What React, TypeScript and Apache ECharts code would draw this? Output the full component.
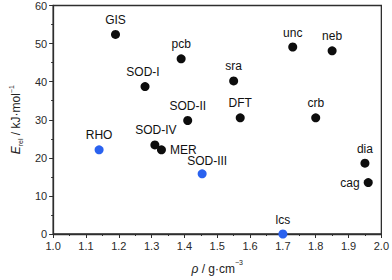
import React, { useEffect, useRef } from "react";
import * as echarts from "echarts";

const names = ["GIS", "SOD-I", "pcb", "SOD-II", "sra", "DFT", "unc", "neb", "crb", "dia", "cag", "SOD-IV", "MER", "RHO", "SOD-III", "lcs"];
const rho = [1.19, 1.28, 1.39, 1.41, 1.55, 1.57, 1.73, 1.85, 1.80, 1.95, 1.96, 1.31, 1.33, 1.14, 1.454, 1.70];
const erel = [52.4, 38.7, 46.0, 29.8, 40.2, 30.5, 49.1, 48.1, 30.5, 18.6, 13.5, 23.4, 22.1, 22.1, 15.8, 0];
const isBlue = [false, false, false, false, false, false, false, false, false, false, false, false, false, true, true, true];

const xTicks = [1.0, 2.0, 0.1];
const yTicks = [0, 60, 10];

const labelPlacement: Record<string, { position: string; offset?: number[] }> = {
  GIS: { position: "top" },
  "SOD-I": { position: "top", offset: [-2, 0] },
  pcb: { position: "top" },
  "SOD-II": { position: "top" },
  sra: { position: "top" },
  DFT: { position: "top" },
  unc: { position: "top" },
  neb: { position: "top" },
  crb: { position: "top" },
  dia: { position: "top" },
  cag: { position: "left" },
  "SOD-IV": { position: "top", offset: [1, 0] },
  MER: { position: "right" },
  RHO: { position: "top" },
  "SOD-III": { position: "top", offset: [5, 2] },
  lcs: { position: "top" },
};

export default function App() {
  const ref = useRef<HTMLDivElement>(null);
  useEffect(() => {
    if (!ref.current) return;
    const chart = echarts.init(ref.current, null, { renderer: "svg" });
    const font = "Liberation Sans, Arial, sans-serif";
    const axisColor = "#2e2e2e";
    const data = names.map((n, i) => {
      const lp = labelPlacement[n] || { position: "top" };
      return {
        name: n,
        value: [rho[i], erel[i]],
        itemStyle: { color: isBlue[i] ? "#2a62ef" : "#0d0d0d", opacity: 1 },
        label: {
          show: true,
          formatter: n,
          position: lp.position,
          offset: lp.offset || [0, 0],
          distance: 4,
          color: "#111111",
          fontSize: 12,
          fontFamily: font,
        },
      };
    });
    chart.setOption({
      animation: false,
      grid: {
        left: 38,
        right: 7,
        top: 5,
        bottom: 39,
        show: true,
        borderColor: axisColor,
        borderWidth: 1.3,
        backgroundColor: "transparent",
      },
      xAxis: {
        type: "value",
        min: xTicks[0],
        max: xTicks[1],
        interval: xTicks[2],
        name: "{i|ρ}{n| / g·cm}{sup|−3}",
        nameLocation: "middle",
        nameGap: 25,
        nameTextStyle: {
          rich: {
            i: { fontStyle: "italic", fontSize: 12, fontFamily: font, color: "#222", lineHeight: 16, verticalAlign: "bottom" },
            n: { fontSize: 12, fontFamily: font, color: "#222", lineHeight: 16, verticalAlign: "bottom" },
            sup: { fontSize: 7, fontFamily: font, color: "#222", lineHeight: 16, verticalAlign: "top" },
          },
        },
        axisLine: { onZero: false, lineStyle: { color: axisColor, width: 1.3 } },
        axisTick: { show: true, inside: false, length: 4, lineStyle: { color: axisColor } },
        minorTick: { show: true, splitNumber: 2, length: 2, lineStyle: { color: axisColor } },
        axisLabel: {
          color: "#2a2a2a",
          fontSize: 11,
          fontFamily: font,
          margin: 6,
          formatter: (v: number) => v.toFixed(1),
        },
        splitLine: { show: false },
      },
      yAxis: {
        type: "value",
        min: yTicks[0],
        max: yTicks[1],
        interval: yTicks[2],
        name: "{i|E}{sub|rel}{n| / kJ·mol}{sup|−1}",
        nameLocation: "middle",
        nameGap: 24,
        nameRotate: 90,
        nameTextStyle: {
          rich: {
            i: { fontStyle: "italic", fontSize: 12, fontFamily: font, color: "#222", lineHeight: 16, verticalAlign: "middle" },
            n: { fontSize: 12, fontFamily: font, color: "#222", lineHeight: 16, verticalAlign: "middle" },
            sub: { fontSize: 7, fontFamily: font, color: "#222", lineHeight: 16, verticalAlign: "bottom" },
            sup: { fontSize: 7, fontFamily: font, color: "#222", lineHeight: 16, verticalAlign: "top" },
          },
        },
        axisLine: { show: true, onZero: false, lineStyle: { color: axisColor, width: 1.3 } },
        axisTick: { show: true, inside: false, length: 4, lineStyle: { color: axisColor } },
        minorTick: { show: true, splitNumber: 2, length: 2, lineStyle: { color: axisColor } },
        axisLabel: { color: "#2a2a2a", fontSize: 11, fontFamily: font, margin: 6 },
        splitLine: { show: false },
      },
      series: [
        {
          type: "scatter",
          symbol: "circle",
          symbolSize: 9,
          clip: true,
          itemStyle: { opacity: 1 },
          data,
        },
      ],
    });
    return () => chart.dispose();
  }, []);
  return <div ref={ref} style={{ width: 392, height: 280, position: "absolute", left: 0, top: 0 }} />;
}
